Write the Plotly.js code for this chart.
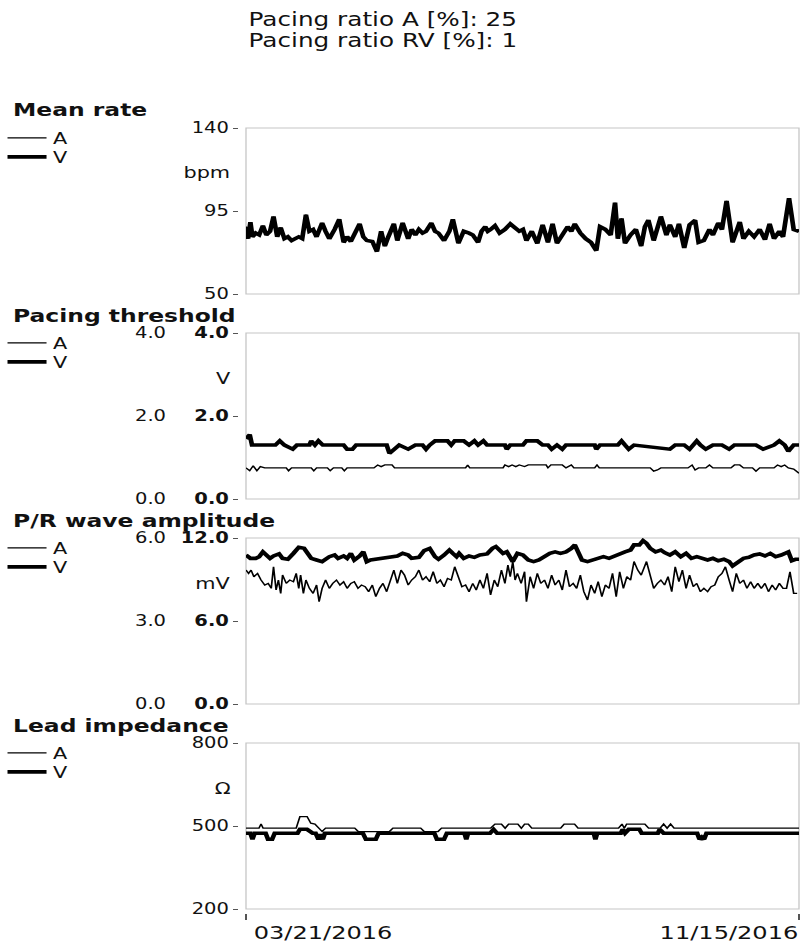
<!DOCTYPE html>
<html><head><meta charset="utf-8">
<script src="https://cdn.plot.ly/plotly-3.0.1.min.js"></script>
<style>
html,body{margin:0;padding:0;background:#fff;overflow:hidden;}
#wrap{width:804px;height:942px;overflow:hidden;}
#chart{width:618px;height:942px;transform:scaleX(1.300971);transform-origin:0 0;}
</style></head><body><div id="wrap"><div id="chart"></div></div>
<script>
// ---------- DATA ----------
const headerLabels = ['Pacing ratio A [%]', 'Pacing ratio RV [%]'];
const headerValues = [25, 1];
const panelTitles = ['Mean rate', 'Pacing threshold', 'P/R wave amplitude', 'Lead impedance'];
const panelUnits = ['bpm', 'V', 'mV', 'Ω'];
const seriesNames = ['A', 'V'];
const dateLabels = ['03/21/2016', '11/15/2016'];
const dayRange = [0, 239]; // days since 03/21/2016

const rateTicks = [50, 95, 140];
const thrTicksA = [0, 2, 4], thrTicksV = [0, 2, 4];
const ampTicksA = [0, 3, 6], ampTicksV = [0, 6, 12];
const impTicks = [200, 500, 800];

// Mean rate (bpm)
const meanRateDays = [0,0.9,1.9,2.8,4.2,5.7,7.3,8.8,10.4,11.9,
 13.5,15,16.6,18.1,19.7,21.2,22.8,24.3,25.9,27.4,
 29,30.5,32.9,34.4,36,38.3,40.3,42.2,43.7,45.3,
 46.8,49.1,50.7,52.2,54.6,56.6,58.4,60,61.5,63.9,
 65.4,67.7,70.1,71.6,73.2,74.7,76.3,77.8,80.1,81.7,
 83.2,85.6,87.9,89.4,91.8,94.1,96.4,98,100.3,101.8,
 103.4,104.5,105.7,107.6,109.6,111.9,114.2,116.6,118.1,119.7,
 121.2,123.5,125.9,128.2,130.5,132.5,134.4,136.7,139,140.6,
 142.1,144.5,146.8,149.1,151.4,153,155.3,157.6,159.5,160.7,
 162.3,163.8,166.2,168.5,170.8,172.4,173.9,176.2,179.3,181.7,
 183.2,185.5,187.1,189.4,191.7,194.1,195.6,197.9,200.3,201.8,
 204.1,205.7,207.7,210.3,213.4,215,217.3,219.6,222,224.3,
 226.3,228.2,230.5,232.1,234.7,236.7,239];
const meanRateV = [86.5,80,89,81,83,82,87,82,84,92,
 81,86,80,81,79,80,81,80,93,84,
 85,81,88.5,84,80,85,90.5,78,81,78.5,
 82,88,81,79,78.5,73,84,76,81,88,
 79,88.5,80,85,82,85,83,84,88.5,84,
 83,79,84,90.5,77.5,84,83,82,78,84,
 86.5,84,85,87,83,85,88,85.5,84,85,
 79,84,77.5,87.5,78,88,77.5,82,86.5,84,
 88,83,80,78,73.5,86.5,85,82,99.5,80,
 91,77.5,82,85,76,86.5,90,79,92,82,
 87.5,81,88,75,87.5,90,78,79,85,82,
 88.5,85,100.5,78,89,80,84,81,85,79.5,
 88,80,84,81,102,85,84];
// atrial rate follows the ventricular rate (hidden beneath the V line)
const meanRateA = meanRateV.slice();

// Pacing threshold (V)
const thrDaysV = [0,1.6,2.6,12.7,14.6,16.6,20.2,22,27.4,28.2,
 29.8,31.3,33.2,42.2,43.7,46,47.6,60.8,62,63.9,
 66.2,70.1,73.2,76.3,77.8,79.4,81.7,87.1,88.7,90.2,
 94.1,96.4,98.7,100.3,102.6,104.2,111.9,112.7,114.2,119.7,
 121.2,125.9,128.2,130.5,132.1,134.4,136.7,138.3,150.7,151.4,
 153,160.7,162.3,163.8,165.4,167.7,183.2,185.5,189.4,191.7,
 193.3,194.8,196.4,198.7,201.8,205.7,208.8,211.1,220.4,223.5,
 228.2,230.5,232.8,234.4,236.7,239];
const thrV = [1.45,1.55,1.3,1.3,1.4,1.3,1.2,1.3,1.3,1.4,
 1.3,1.4,1.3,1.3,1.2,1.2,1.3,1.3,1.1,1.2,
 1.3,1.2,1.3,1.3,1.2,1.3,1.4,1.4,1.3,1.4,
 1.4,1.3,1.4,1.3,1.4,1.3,1.3,1.2,1.3,1.3,
 1.4,1.4,1.3,1.3,1.2,1.3,1.2,1.3,1.3,1.2,
 1.3,1.3,1.4,1.3,1.2,1.3,1.2,1.3,1.3,1.2,
 1.3,1.4,1.3,1.2,1.3,1.3,1.2,1.3,1.3,1.2,
 1.3,1.4,1.3,1.15,1.3,1.3];
const thrDaysA = [0,1.6,3.1,4.7,6.2,8.1,17.4,18.4,19.7,28.2,
 29.3,30.5,35.2,36.4,37.8,41.4,42.5,43.7,55.3,56.9,
 58.4,60,63.1,64.2,94.9,95.8,96.7,111.1,111.9,113.5,
 115,116.6,118.1,120.4,122,129.7,130.5,131.8,136.7,138.3,
 140.6,141.7,150.7,151.7,152.7,174.7,176.2,177.8,179.3,191,
 192.8,194.1,195.6,198.7,200.3,201.8,209.6,211.1,213.4,215,
 218.9,220.4,222,228.2,229.7,231.3,232.8,234.4,236.7,239];
const thrA = [0.75,0.68,0.8,0.68,0.78,0.75,0.75,0.68,0.75,0.75,
 0.68,0.75,0.75,0.68,0.75,0.75,0.68,0.75,0.75,0.82,
 0.78,0.82,0.82,0.75,0.75,0.82,0.75,0.75,0.82,0.78,
 0.82,0.78,0.82,0.78,0.82,0.82,0.75,0.82,0.82,0.75,
 0.82,0.75,0.75,0.82,0.75,0.75,0.67,0.7,0.75,0.75,
 0.82,0.7,0.75,0.75,0.82,0.75,0.75,0.82,0.82,0.75,
 0.75,0.67,0.75,0.75,0.82,0.78,0.82,0.75,0.72,0.62];

// P/R wave amplitude (mV)
const ampDaysV = [0,1.9,4.2,5.7,7.3,8.8,10.4,11.9,14.3,15.8,
 18.1,20.5,22.8,25.1,26.7,28.2,30.5,32.9,36,38.3,
 39.8,42.2,43.7,45.3,46.8,49.1,50.7,52.2,53.8,56.1,
 59.2,62.3,65.4,67.7,70.1,71.6,74.7,77,79.4,81.7,
 83.2,85.6,87.9,89.4,91,92.1,94.1,96.4,98.7,101.1,
 104.2,106.5,108,109.6,111.1,112.7,114.2,115.3,117.3,119.7,
 122,124.3,126.6,129,131.3,133.6,135.9,138.3,140.6,142.1,
 143.7,145.2,147.6,149.9,152.2,154.5,156.9,159.2,161.5,163.8,
 166.2,167.7,170,171.6,173.1,174.7,177,179.3,180.9,183.2,
 185.5,187.9,190.2,192.5,194.8,197.2,199.5,201.8,204.1,206.5,
 208.8,210.3,212.7,215,217.3,219.6,222,224.3,226.6,228.9,
 231.3,232.8,234.4,235.9,237.5,239];
const ampV = [10.77,10.53,10.53,10.65,11.0,10.77,10.53,10.7,10.85,10.53,
 10.46,10.89,11.33,11.25,10.89,10.53,10.41,10.29,10.65,10.77,
 10.53,10.7,10.53,10.89,10.41,10.7,11.0,10.29,10.41,10.46,
 10.53,10.6,10.7,10.89,10.77,10.53,10.6,11.09,11.25,10.65,
 10.46,10.77,11.13,10.89,10.65,10.89,10.53,10.7,10.6,10.77,
 10.85,11.25,11.38,11.13,10.89,11.0,10.53,10.29,10.89,10.77,
 10.41,10.29,10.41,10.65,10.89,11.0,10.89,11.0,11.25,11.5,
 10.89,10.41,10.29,10.41,10.53,10.65,10.53,10.7,10.85,11.0,
 11.13,11.5,11.5,11.81,11.62,11.25,11.0,11.13,10.94,10.77,
 11.0,10.65,10.89,10.53,10.65,10.53,10.41,10.53,10.36,10.46,
 10.29,9.98,10.29,10.53,10.6,10.77,10.85,10.7,10.89,10.65,
 10.77,10.85,11.0,10.36,10.46,10.46];
const ampDaysA = [0,1.1,2.2,3.4,5,6.5,8.1,9.6,10.9,11.9,
 13,14,15,15.8,17.4,18.9,20.5,21.7,22.8,23.6,
 24.8,25.9,27.4,29,30.5,31.6,32.9,34.4,36,37.5,
 39.1,40.6,42.2,43.7,45.3,46.8,48.4,49.9,51.5,53,
 54.6,56.1,57.7,59.2,60.8,62.3,63.9,65.4,67,68.5,
 70.1,71.6,73.2,74.7,76.3,77.8,79.4,80.9,82.5,84,
 85.6,87.1,88.7,90.2,91.8,93.3,94.9,96.4,98,99.5,
 101.1,102.6,104.2,105.7,107.3,108.8,110.4,111.9,113.2,114.2,
 115.3,116.3,117.3,118.9,120.4,121.2,122.8,124.3,125.9,127.4,
 129,130.5,132.1,133.6,135.2,136.7,138.3,139.8,141.4,142.9,
 144.5,146,147.6,149.1,150.7,152.2,153.8,155.3,156.9,158.4,
 160,161.5,163.1,164.6,166.2,167.7,169.3,170.8,173.1,174.7,
 176.2,177.8,179.3,180.9,182.4,184,185.5,187.1,188.6,190.2,
 191.7,193.3,194.8,196.4,197.9,199.5,201,202.6,204.1,205.7,
 207.2,208.8,210.3,211.9,213.4,215,216.5,218.1,219.6,221.2,
 222.7,224.3,225.8,227.4,228.9,230.5,232.1,233.6,235.1,236.7,
 238.2];
const ampA = [4.84,4.72,4.84,4.6,4.72,4.48,4.3,4.36,4.18,4.96,
 4.12,4.48,4.0,4.66,4.36,4.48,4.42,4.72,4.18,4.66,
 4.0,4.48,4.18,4.0,4.3,3.7,4.18,4.48,4.18,4.36,
 4.48,4.3,4.42,4.18,4.36,4.42,4.18,4.3,4.24,4.06,
 4.3,3.88,4.18,4.36,4.06,4.42,4.84,4.36,4.84,4.66,
 4.3,4.48,4.6,4.84,4.48,4.6,4.42,4.78,4.36,4.48,
 4.24,4.54,4.48,4.96,4.6,4.24,4.3,4.06,4.36,4.12,
 4.48,4.18,4.72,3.94,4.48,4.24,4.84,4.36,5.02,4.6,
 5.15,4.48,4.72,4.36,4.78,3.7,4.6,4.18,4.72,4.36,
 4.48,4.18,4.66,4.3,4.48,4.12,4.84,4.24,4.36,4.18,
 4.66,4.06,3.76,4.3,4.0,4.42,3.88,4.3,4.18,4.72,
 3.88,4.78,4.18,4.6,4.48,5.15,4.84,4.66,5.15,4.66,
 4.18,4.36,4.48,4.3,4.6,4.06,4.96,4.42,4.84,4.18,
 4.66,4.24,4.36,4.06,4.18,4.06,4.24,4.3,4.6,4.72,
 4.96,4.48,4.06,4.72,4.36,4.48,4.18,4.42,4.18,4.36,
 4.18,4.36,4.06,4.3,4.12,4.36,4.18,4.18,4.78,4.0,
 4.0];

// Lead impedance (Ohm)
const impDaysA = [0,5.6,6.5,7.4,21.7,23.3,26.4,28,29.8,31.5,
 32.9,34.4,47,48.5,62,63.5,75.5,77,83,84.5,
 105.7,107.6,110.4,112,113.5,117.5,119,120.4,122,123.5,
 136,137.5,142,143.5,161,162.5,163.5,164.5,172.4,174,
 179,180.5,182,183.5,185,239];
const impA = [492,492,507,492,492,534,534,510,507,492,
 480,492,492,480,480,492,492,480,480,492,
 492,507,507,492,507,507,492,507,507,492,
 492,507,507,492,492,507,492,507,507,492,
 492,507,492,507,492,492];
const impDaysV = [0,1.9,2.8,3.7,8.5,9.5,11.3,12.4,22.3,23.3,
 26.4,28.8,30.1,31.3,32.2,33.2,34.1,50.5,51.8,56.1,
 57.3,81.4,82.5,85.6,86.8,94.4,95.2,96,105.5,107,
 108.5,150.3,151,151.8,162,162.8,163.8,165.4,170,171,
 178,178.8,180.5,195,196,197,198,199,239];
const impV = [474,474,452,474,474,452,452,474,474,488,
 488,474,474,452,470,452,474,474,452,452,
 474,474,452,452,474,474,452,474,474,488,
 474,474,452,474,474,488,474,488,488,474,
 474,488,474,474,452,460,452,474,474];

// ---------- LAYOUT HELPERS ----------
const PW = 618, PH = 942, SX = 804 / 618;
const fx = r => r / SX / PW;        // real pixel x -> paper
const fy = r => 1 - r / PH;         // real pixel y -> paper
const tops = [128, 333, 538, 743], PANEL_H = 166;
const FONT = 'DejaVu Sans';
const xDom = [fx(246), fx(799)];
const yDom = i => [fy(tops[i] + PANEL_H), fy(tops[i])];
const fmt = (v, d) => v.toFixed(d);

const baseY = (i, ticks, range, dec, bold) => ({
  domain: yDom(i), range: range, anchor: 'free', position: fx(238),
  tickvals: ticks, ticktext: ticks.map(t => fmt(t, dec)),
  ticks: 'outside', ticklen: 4, tickwidth: 1, tickcolor: '#555',
  showline: false, showgrid: false, zeroline: false, fixedrange: true,
  tickfont: {family: FONT, size: 15, color: '#111', weight: bold ? 'bold' : 'normal'}
});
const sideY = (over, ticks, range) => ({
  overlaying: over, range: range, anchor: 'free', position: fx(166), side: 'left',
  tickvals: ticks, ticktext: ticks.map(t => fmt(t, 1)), ticks: '',
  showline: false, showgrid: false, zeroline: false, fixedrange: true,
  tickfont: {family: FONT, size: 15, color: '#111'}
});
const hidX = (anchor) => ({domain: xDom, range: dayRange, anchor: anchor, visible: false, fixedrange: true});

const layout = {
  width: PW, height: PH, margin: {l: 0, r: 0, t: 0, b: 0},
  paper_bgcolor: '#fff', plot_bgcolor: '#fff', showlegend: true,
  font: {family: FONT, color: '#111', size: 16},
  xaxis: hidX('y'), xaxis2: hidX('y2'), xaxis3: hidX('y3'),
  xaxis4: {domain: xDom, range: dayRange, anchor: 'free', position: fy(913),
    tickvals: dayRange, showticklabels: false, ticks: 'outside', ticklen: 6,
    tickcolor: '#555', showline: false, showgrid: false, zeroline: false, fixedrange: true},
  yaxis: baseY(0, rateTicks, [50, 140], 0, false),
  yaxis2: baseY(1, thrTicksV, [0, 4], 1, true),
  yaxis3: baseY(2, ampTicksV, [0, 12], 1, true),
  yaxis4: baseY(3, impTicks, [200, 800], 0, false),
  yaxis5: sideY('y2', thrTicksA, [0, 4]),
  yaxis6: sideY('y3', ampTicksA, [0, 6]),
  shapes: [], annotations: []
};

// header text (one annotation per line)
headerLabels.forEach((l, i) => {
  layout.annotations.push({
    text: l + ': ' + headerValues[i],
    xref: 'paper', yref: 'paper', x: fx(248), xanchor: 'left', xshift: -2,
    y: fy(19 + 21 * i), yanchor: 'middle', showarrow: false,
    font: {family: FONT, size: 19, color: '#111'}
  });
});

const legendName = k => (k === 1 ? 'legend' : 'legend' + k);
['', '2', '3', '4'].forEach((s, i) => {
  layout.shapes.push({type: 'rect', xref: 'x' + s + ' domain', yref: 'y' + s + ' domain',
    x0: 0, x1: 1, y0: 0, y1: 1, line: {color: '#c6c6c6', width: 1}, layer: 'below'});
  layout.annotations.push({text: panelTitles[i], xref: 'paper', yref: 'paper',
    x: fx(11), xanchor: 'left', y: fy(tops[i] - 18), yanchor: 'middle', showarrow: false,
    font: {family: FONT, size: 18, color: '#111', weight: 'bold'}});
  layout.annotations.push({text: panelUnits[i], xref: 'paper', yref: 'paper',
    x: fx(233), xanchor: 'right', y: fy(tops[i] + 45), yanchor: 'middle', showarrow: false,
    font: {family: FONT, size: 16, color: '#111'}});
  [10, 29].forEach((off, j) => {
    layout[legendName(2 * i + j + 1)] = {visible: true, x: fx(1), xanchor: 'left', y: fy(tops[i] + off), yanchor: 'middle',
      bgcolor: 'rgba(0,0,0,0)', font: {family: FONT, size: 16, color: '#111'},
      itemwidth: 30, tracegroupgap: 0, itemclick: false, itemdoubleclick: false};
  });
});
layout.annotations.push({text: dateLabels[0], xref: 'x4', yref: 'paper', x: dayRange[0],
  xanchor: 'left', xshift: 4, y: fy(932), yanchor: 'middle', showarrow: false,
  font: {family: FONT, size: 18.5, color: '#111'}});
layout.annotations.push({text: dateLabels[1], xref: 'x4', yref: 'paper', x: dayRange[1],
  xanchor: 'right', xshift: 2, y: fy(932), yanchor: 'middle', showarrow: false,
  font: {family: FONT, size: 18.5, color: '#111'}});

// ---------- TRACES ----------
const tr = (x, y, xa, ya, k, name, w) => ({
  type: 'scatter', mode: 'lines', x: x, y: y, xaxis: xa, yaxis: ya, legend: legendName(k),
  name: name, showlegend: true, line: {color: '#000', width: w}, hoverinfo: 'skip'
});
const WA = 1.3, WV = 3.6;
const data = [
  tr(meanRateDays, meanRateA, 'x', 'y', 1, seriesNames[0], WA),
  tr(meanRateDays, meanRateV, 'x', 'y', 2, seriesNames[1], WV),
  tr(thrDaysA, thrA, 'x2', 'y5', 3, seriesNames[0], WA),
  tr(thrDaysV, thrV, 'x2', 'y2', 4, seriesNames[1], WV),
  tr(ampDaysA, ampA, 'x3', 'y6', 5, seriesNames[0], WA),
  tr(ampDaysV, ampV, 'x3', 'y3', 6, seriesNames[1], WV),
  tr(impDaysA, impA, 'x4', 'y4', 7, seriesNames[0], WA),
  tr(impDaysV, impV, 'x4', 'y4', 8, seriesNames[1], WV)
];

Plotly.newPlot('chart', data, layout, {displayModeBar: false, staticPlot: true});
</script></body></html>
